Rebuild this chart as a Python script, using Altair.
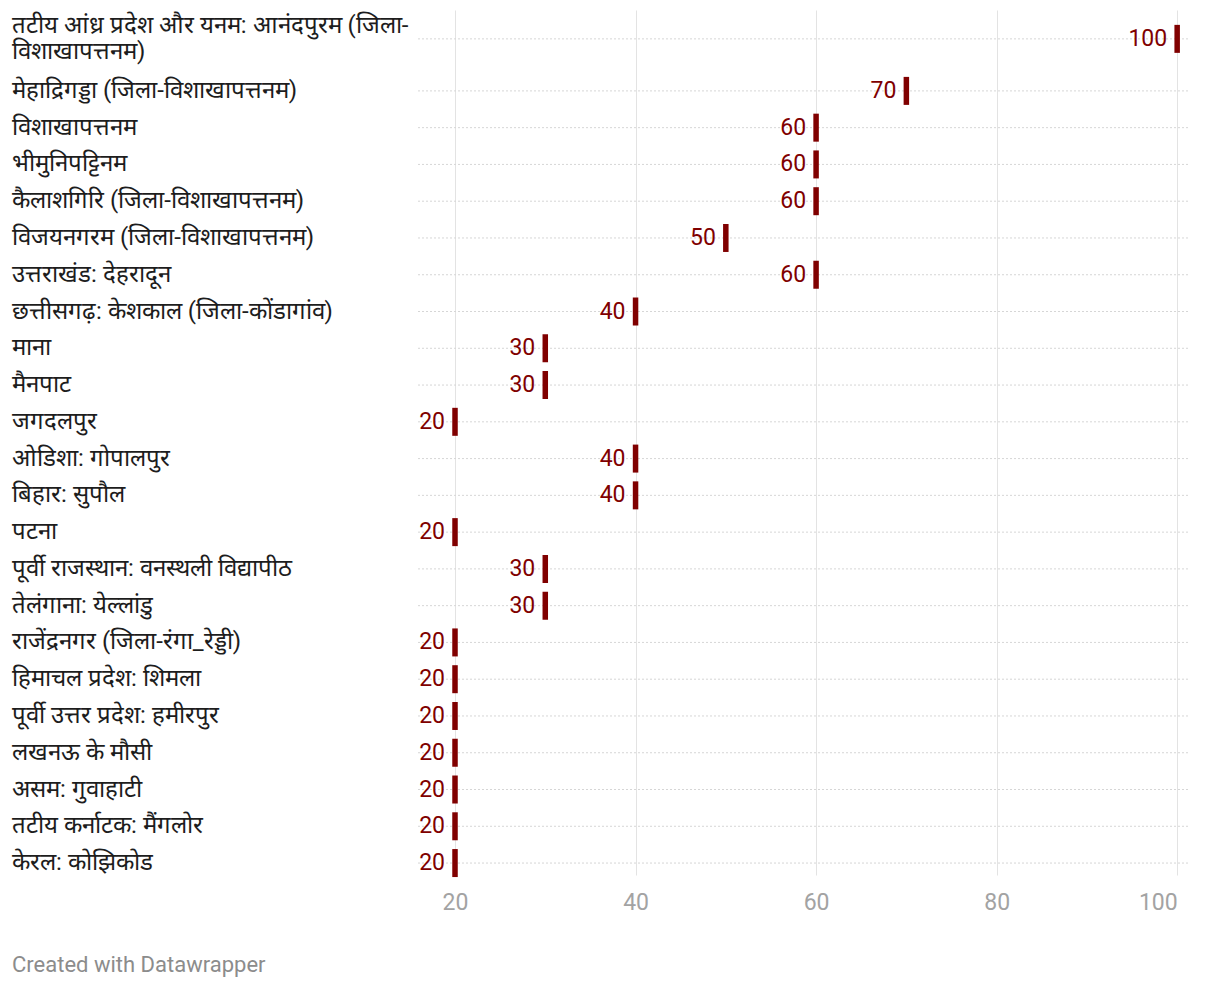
import altair as alt
import pandas as pd

labels = [
    "तटीय आंध्र प्रदेश और यनम: आनंदपुरम (जिला-\nविशाखापत्तनम)",
    "मेहाद्रिगड्डा (जिला-विशाखापत्तनम)",
    "विशाखापत्तनम",
    "भीमुनिपट्टिनम",
    "कैलाशगिरि (जिला-विशाखापत्तनम)",
    "विजयनगरम (जिला-विशाखापत्तनम)",
    "उत्तराखंड: देहरादून",
    "छत्तीसगढ़: केशकाल (जिला-कोंडागांव)",
    "माना",
    "मैनपाट",
    "जगदलपुर",
    "ओडिशा: गोपालपुर",
    "बिहार: सुपौल",
    "पटना",
    "पूर्वी राजस्थान: वनस्थली विद्यापीठ",
    "तेलंगाना: येल्लांडु",
    "राजेंद्रनगर (जिला-रंगा_रेड्डी)",
    "हिमाचल प्रदेश: शिमला",
    "पूर्वी उत्तर प्रदेश: हमीरपुर",
    "लखनऊ के मौसी",
    "असम: गुवाहाटी",
    "तटीय कर्नाटक: मैंगलोर",
    "केरल: कोझिकोड",
]
values = [100, 70, 60, 60, 60, 50, 60, 40, 30, 30, 20, 40, 40, 20, 30, 30,
          20, 20, 20, 20, 20, 20, 20]
x_ticks = [20, 40, 60, 80, 100]
footer = "Created with Datawrapper"

df = pd.DataFrame({"order": list(range(len(labels))), "label": labels, "value": values})

W, H = 770, 865
RED = "#800000"

base = (
    alt.Chart(df)
    .transform_calculate(
        lines="length(split(datum.label, '\\n'))",
        rowH="1 + 0.83 * (datum.lines - 1)",
    )
    .transform_window(cum="sum(rowH)", sort=[alt.SortField("order")])
    .transform_calculate(
        pos="datum.cum - datum.rowH / 2",
        lpos="datum.cum - datum.rowH / 2 - (datum.lines - 1) * 0.354",
    )
)

yscale = alt.Scale(domain=[0.13, 23.655], reverse=True, nice=False, zero=False)
yenc = alt.Y("pos:Q", scale=yscale, axis=None)
xenc = alt.X(
    "value:Q",
    scale=alt.Scale(domain=[15.9, 101.2], nice=False, zero=False),
    axis=alt.Axis(values=x_ticks, grid=True, domain=False, ticks=False, labelFontSize=23,
                  labelColor="#a3a3a3", labelPadding=16, gridColor="#e3e3e3", gridWidth=1,
                  title=None, labelFont="Roboto",
                  labelAlign={"condition": {"test": "datum.value >= 100", "value": "right"},
                              "value": "center"}),
)

rules = base.mark_rule(strokeDash=[2, 2], color="#d6d6d6", strokeWidth=1).encode(
    y=yenc, x=alt.value(0), x2=alt.value(W)
)
ticks = base.mark_tick(orient="vertical", thickness=5.5, size=28, color=RED, opacity=1).encode(x=xenc, y=yenc)
vals = base.mark_text(align="right", baseline="middle", dx=-10, fontSize=23, color=RED, font="Roboto").encode(
    x=xenc, y=yenc, text="value:Q"
)
lbls = base.mark_text(align="left", baseline="middle", fontSize=24, lineBreak="\n", lineHeight=26,
                      color="#1d1d1d", font="Roboto").encode(
    x=alt.value(-406), y=alt.Y("lpos:Q", scale=yscale, axis=None), text="label:N"
)
foot = alt.Chart(pd.DataFrame({"t": [footer]})).mark_text(
    align="left", baseline="middle", fontSize=22, color="#8c8c8c", font="Roboto"
).encode(x=alt.value(-406), y=alt.value(955), text="t:N")

chart = (
    alt.layer(rules, ticks, vals, lbls, foot)
    .properties(width=W, height=H, autosize=alt.AutoSizeParams(type="none"),
                padding={"left": 410, "top": 2, "right": 22, "bottom": 108},
                background="white")
    .configure_view(stroke=None)
)

chart.save("out.html", embed_options={"renderer": "svg", "actions": False})
